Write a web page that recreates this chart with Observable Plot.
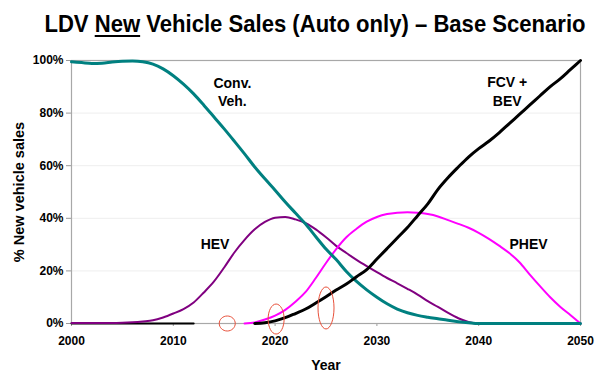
<!DOCTYPE html>
<html>
<head>
<meta charset="utf-8">
<script src="https://cdn.jsdelivr.net/npm/d3@7"></script>
<script src="https://cdn.jsdelivr.net/npm/@observablehq/plot@0.6"></script>
<style>
  body { margin: 0; background: #fff; font-family: "Liberation Sans", Arial, sans-serif; }
  #wrap { width: 610px; height: 375px; position: relative; overflow: hidden; background: #fff; }
  #title { height: 45px; position: relative; }
  #title span {
    position: absolute; left: 315px; top: 12px; line-height: 24px;
    transform: translateX(-50%) scaleX(0.92); transform-origin: center;
    font-weight: bold; font-size: 24px; white-space: nowrap; color: #000;
  }
  #title u { text-decoration-thickness: 2px; text-underline-offset: 3px; }
  g[aria-label*="tick"] path, g[aria-label*="axis"] .tick line { stroke: #999; }
</style>
</head>
<body>
<div id="wrap">
  <div id="title"><span>LDV <u>New</u> Vehicle Sales (Auto only) – Base Scenario</span></div>
  <div id="chart"></div>
</div>
<script>
// ---- data ----
const years = d3.range(2000, 2051);
const xTicks = [2000, 2010, 2020, 2030, 2040, 2050];
const yTicks = [0, 20, 40, 60, 80, 100];
const gridPct = [20, 40, 60, 80];

const convVeh = [99.5, 99.2, 98.9, 99.0, 99.4, 99.7, 99.8, 99.5, 98.6, 96.8,
  94.2, 91.0, 87.3, 83.0, 78.5, 74.0, 69.3, 64.5, 59.5, 55.0,
  50.7, 46.2, 42.0, 37.8, 33.0, 28.3, 24.3, 19.8, 16.0, 12.8,
  10.0, 7.5, 5.5, 4.1, 3.1, 2.4, 1.8, 1.2, 0.7, 0.3,
  0, 0, 0, 0, 0, 0, 0, 0, 0, 0, 0];
const hev = [0.2, 0.2, 0.2, 0.2, 0.2, 0.3, 0.5, 0.8, 1.2, 2.3,
  3.8, 5.5, 8.0, 11.8, 16.0, 21.3, 27.0, 31.8, 35.8, 38.6,
  40.2, 40.5, 39.6, 38.2, 35.8, 32.8, 29.5, 26.8, 24.2, 21.8,
  19.5, 17.3, 15.3, 13.2, 11.0, 8.5, 6.3, 4.0, 2.0, 0.6,
  0, 0, 0, 0, 0, 0, 0, 0, 0, 0, 0];
const phev = [null, null, null, null, null, null, null, null, null, null,
  null, null, null, null, null, null, null, 0, 0.4, 1.5,
  3.0, 5.2, 8.3, 12.0, 17.3, 23.0, 28.3, 32.8, 36.0, 38.7,
  40.5, 41.6, 42.1, 42.3, 42.1, 41.6, 40.7, 39.3, 37.9, 36.4,
  34.5, 32.2, 29.6, 26.8, 23.3, 18.7, 14.3, 10.1, 6.4, 3.2, 0];
const fcvBev = [0, 0, 0, 0, 0, 0, 0, 0, 0, 0,
  0, 0, 0, null, null, null, null, null, 0, 0.3,
  1.0, 2.2, 3.8, 5.5, 7.8, 10.2, 12.7, 15.0, 17.8, 20.5,
  24.5, 28.5, 32.5, 36.5, 41.0, 45.5, 51.0, 55.5, 59.5, 63.3,
  66.5, 69.3, 72.5, 76.0, 79.5, 83.0, 86.5, 90.0, 93.0, 96.5, 100];

const labelText = ["Conv.\nVeh.", "HEV", "PHEV", "FCV +\nBEV"];
const labelYear = [2015.8, 2014.1, 2044.9, 2042.8];
const labelPct = [88.3, 30.4, 30.4, 88.5];

const annYear = [2015.3, 2020.1, 2025.0];
const annPct = [0, 1.7, 5.9];

const yTitle = "% New vehicle sales";
const xTitle = "Year";

// ---- build tables ----
const toRows = (vals) => years.map((yr, i) => ({year: yr, pct: vals[i]}));
const labels = labelText.map((t, i) => ({text: t, year: labelYear[i], pct: labelPct[i]}));
const anns = annYear.map((yr, i) => ({year: yr, pct: annPct[i]}));

function ellipseSymbol(rx, ry) {
  const k = 0.5523;
  return {
    draw(ctx) {
      ctx.moveTo(rx, 0);
      ctx.bezierCurveTo(rx, ry * k, rx * k, ry, 0, ry);
      ctx.bezierCurveTo(-rx * k, ry, -rx, ry * k, -rx, 0);
      ctx.bezierCurveTo(-rx, -ry * k, -rx * k, -ry, 0, -ry);
      ctx.bezierCurveTo(rx * k, -ry, rx, -ry * k, rx, 0);
      ctx.closePath();
    }
  };
}
const annRadii = [[8, 7.5], [8, 15], [8, 21]];

const lineOpts = (color, w, filter) => ({x: "year", y: "pct", stroke: color, strokeWidth: w, curve: "monotone-x", filter});

const chart = Plot.plot({
  width: 610,
  height: 330,
  marginTop: 15,
  marginBottom: 52,
  marginLeft: 71,
  marginRight: 30,
  style: {fontFamily: "'Liberation Sans', Arial, sans-serif", fontSize: "12px", fontWeight: "bold", color: "#000", background: "#fff"},
  x: {domain: [2000, 2050], ticks: xTicks, tickFormat: d => String(d), tickSize: 3, tickPadding: 10, label: null},
  y: {domain: [0, 100], ticks: yTicks, tickFormat: d => d + "%", tickSize: 5, tickPadding: 3, label: null},
  marks: [
    Plot.ruleY(gridPct, {stroke: "#eeeeee", strokeWidth: 1}),
    Plot.frame({stroke: "#a8a8a8", strokeWidth: 1.2}),
    Plot.line(toRows(fcvBev), lineOpts("#000000", 2, d => d.year <= 2012)),
    Plot.line(toRows(hev), lineOpts("#800080", 2)),
    Plot.line(toRows(phev), lineOpts("#ff00ff", 2)),
    Plot.line(toRows(convVeh), lineOpts("#008080", 3)),
    Plot.line(toRows(fcvBev), lineOpts("#000000", 3, d => d.year >= 2018)),
    ...anns.map((a, i) => Plot.dot([a], {x: "year", y: "pct", symbol: ellipseSymbol(annRadii[i][0], annRadii[i][1]), stroke: "#e8503a", strokeWidth: 1, fill: "none"})),
    Plot.text(labels, {x: "year", y: "pct", text: "text", fontSize: 14, fontWeight: "bold", lineHeight: 1.3, textAnchor: "middle", lineAnchor: "middle", fill: "#000"}),
    Plot.text([yTitle], {text: d => d, frameAnchor: "left", rotate: -90, dx: -52, textAnchor: "middle", lineAnchor: "middle", fontSize: 14.5, fontWeight: "bold", fill: "#000"}),
    Plot.text([xTitle], {text: d => d, frameAnchor: "bottom", dy: 42, textAnchor: "middle", lineAnchor: "middle", fontSize: 14, fontWeight: "bold", fill: "#000"})
  ]
});
document.getElementById("chart").appendChild(chart);
</script>
</body>
</html>
